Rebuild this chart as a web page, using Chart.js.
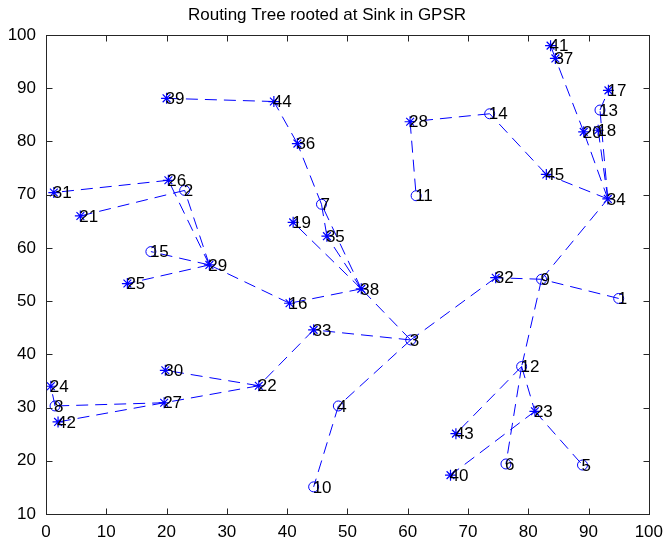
<!DOCTYPE html>
<html>
<head>
<meta charset="utf-8">
<title>Routing Tree rooted at Sink in GPSR</title>
<script src="https://cdn.jsdelivr.net/npm/chart.js@4/dist/chart.umd.min.js"></script>
<style>
  body { margin: 0; background: #fff; }
  canvas { display: block; }
</style>
</head>
<body>
<canvas id="arbol" width="671" height="542"></canvas>
<script>
// posicion de cada nodo (indice 0 = nodo 1)
const nodoX = [95, 23, 60.5, 48.5, 89, 76.3, 45.7, 1.5, 82.2, 44.4,
  61.4, 78.9, 91.9, 73.6, 17.4, 40.4, 93.3, 91.6, 41.0, 89.2,
  5.7, 35.3, 81.1, 0.8, 13.5, 20.3, 19.6, 60.4, 27.1, 19.8,
  1.3, 74.6, 44.4, 93.2, 46.6, 41.7, 84.5, 52.3, 20.0, 67.1,
  83.7, 2.0, 68.0, 37.8, 83.0];
const nodoY = [50.5, 70.8, 42.7, 30.3, 19.2, 19.4, 68.2, 30.3, 54.1, 15.1,
  69.8, 37.7, 85.9, 85.2, 59.3, 49.6, 89.6, 82.1, 64.8, 81.8,
  66.0, 34.1, 29.3, 34.0, 53.3, 72.7, 30.9, 83.7, 56.8, 37.0,
  70.4, 54.4, 44.6, 69.2, 62.2, 79.6, 95.6, 52.3, 88.1, 17.3,
  98.0, 27.3, 25.1, 87.5, 73.8];

// nodos dibujados con circulo, el resto con asterisco
const nodosCirculo = [1, 2, 3, 4, 5, 6, 7, 8, 9, 10, 11, 12, 13, 14, 15];

// aristas del arbol: desde[i] -> hasta[i]
const desde = [1, 9, 9, 9, 12, 12, 12, 23, 23, 32, 3, 4, 3, 33, 22, 22, 27, 27, 8,
  3, 38, 16, 29, 29, 29, 29, 26, 2, 38, 38, 38, 7, 7, 36, 44,
  34, 45, 14, 28, 34, 20, 37, 34, 34, 13];
const hasta = [9, 34, 32, 12, 6, 23, 43, 40, 5, 3, 4, 10, 33, 22, 30, 27, 8, 42, 24,
  38, 16, 29, 15, 25, 26, 2, 31, 21, 19, 35, 7, 35, 36, 44, 39,
  45, 14, 28, 11, 20, 37, 41, 18, 13, 17];

const ticksX = [0, 10, 20, 30, 40, 50, 60, 70, 80, 90, 100];
const ticksY = [10, 20, 30, 40, 50, 60, 70, 80, 90, 100];

const AZUL = '#0000ff';
const FUENTE = "'Liberation Sans', Arial, sans-serif";

const punto = (n) => ({ x: nodoX[n - 1], y: nodoY[n - 1], id: n });

const datasets = [];

// una linea discontinua por arista
desde.forEach((a, i) => {
  datasets.push({
    data: [punto(a), punto(hasta[i])],
    showLine: true,
    borderColor: AZUL,
    borderWidth: 1,
    borderDash: [12, 7],
    pointRadius: 0,
    fill: false
  });
});

const todos = nodoX.map((_, i) => i + 1);

datasets.push({
  data: todos.filter((n) => nodosCirculo.includes(n)).map(punto),
  pointStyle: 'circle',
  pointRadius: 5,
  borderColor: AZUL,
  backgroundColor: 'rgba(0,0,0,0)',
  borderWidth: 1,
  showLine: false
});

datasets.push({
  data: todos.filter((n) => !nodosCirculo.includes(n)).map(punto),
  pointStyle: 'star',
  pointRadius: 5.5,
  borderColor: AZUL,
  backgroundColor: 'rgba(0,0,0,0)',
  borderWidth: 1.2,
  showLine: false
});

// caja de ejes con marcas hacia dentro y numero de cada nodo
const cajaEjes = {
  id: 'cajaEjes',
  afterDatasetsDraw(chart) {
    const { ctx, scales: { x, y } } = chart;
    ctx.save();
    ctx.fillStyle = '#000';
    ctx.font = `17px ${FUENTE}`;
    ctx.textAlign = 'left';
    ctx.textBaseline = 'middle';
    todos.forEach((n) => {
      ctx.fillText(String(n), x.getPixelForValue(nodoX[n - 1]) - 1, y.getPixelForValue(nodoY[n - 1]) + 1);
    });
    ctx.restore();
  },
  afterDraw(chart) {
    const { ctx, chartArea: a, scales: { x, y } } = chart;
    const l = Math.round(a.left) + 0.5;
    const r = Math.round(a.right) + 0.5;
    const t = Math.round(a.top) + 0.5;
    const b = Math.round(a.bottom) + 0.5;
    ctx.save();
    ctx.strokeStyle = '#262626';
    ctx.lineWidth = 1;
    ctx.strokeRect(l, t, r - l, b - t);
    ctx.beginPath();
    ticksX.forEach((v) => {
      const px = Math.round(x.getPixelForValue(v)) + 0.5;
      ctx.moveTo(px, b); ctx.lineTo(px, b - 6);
      ctx.moveTo(px, t); ctx.lineTo(px, t + 6);
    });
    ticksY.forEach((v) => {
      const py = Math.round(y.getPixelForValue(v)) + 0.5;
      ctx.moveTo(l, py); ctx.lineTo(l + 6, py);
      ctx.moveTo(r, py); ctx.lineTo(r - 6, py);
    });
    ctx.stroke();
    ctx.restore();
  }
};

new Chart(document.getElementById('arbol'), {
  type: 'scatter',
  data: { datasets },
  options: {
    responsive: false,
    animation: false,
    layout: { padding: { left: 0, right: 17, top: 0, bottom: 0 } },
    plugins: {
      legend: { display: false },
      tooltip: { enabled: false },
      title: {
        display: true,
        text: 'Routing Tree rooted at Sink in GPSR',
        color: '#000',
        font: { family: FUENTE, size: 17, weight: 'normal', lineHeight: 1.2 },
        padding: { top: 5, bottom: 9.6 }
      }
    },
    scales: {
      x: {
        type: 'linear',
        min: 0,
        max: 100,
        grid: { display: false, drawTicks: false },
        border: { display: false },
        ticks: { stepSize: 10, color: '#000', padding: 8, font: { family: FUENTE, size: 17 } },
        afterFit: (s) => { s.height = 28; }
      },
      y: {
        type: 'linear',
        min: 10,
        max: 100,
        grid: { display: false, drawTicks: false },
        border: { display: false },
        ticks: { stepSize: 10, color: '#000', padding: 10, font: { family: FUENTE, size: 17 } },
        afterFit: (s) => { s.width = 46; }
      }
    }
  },
  plugins: [cajaEjes]
});
</script>
</body>
</html>
